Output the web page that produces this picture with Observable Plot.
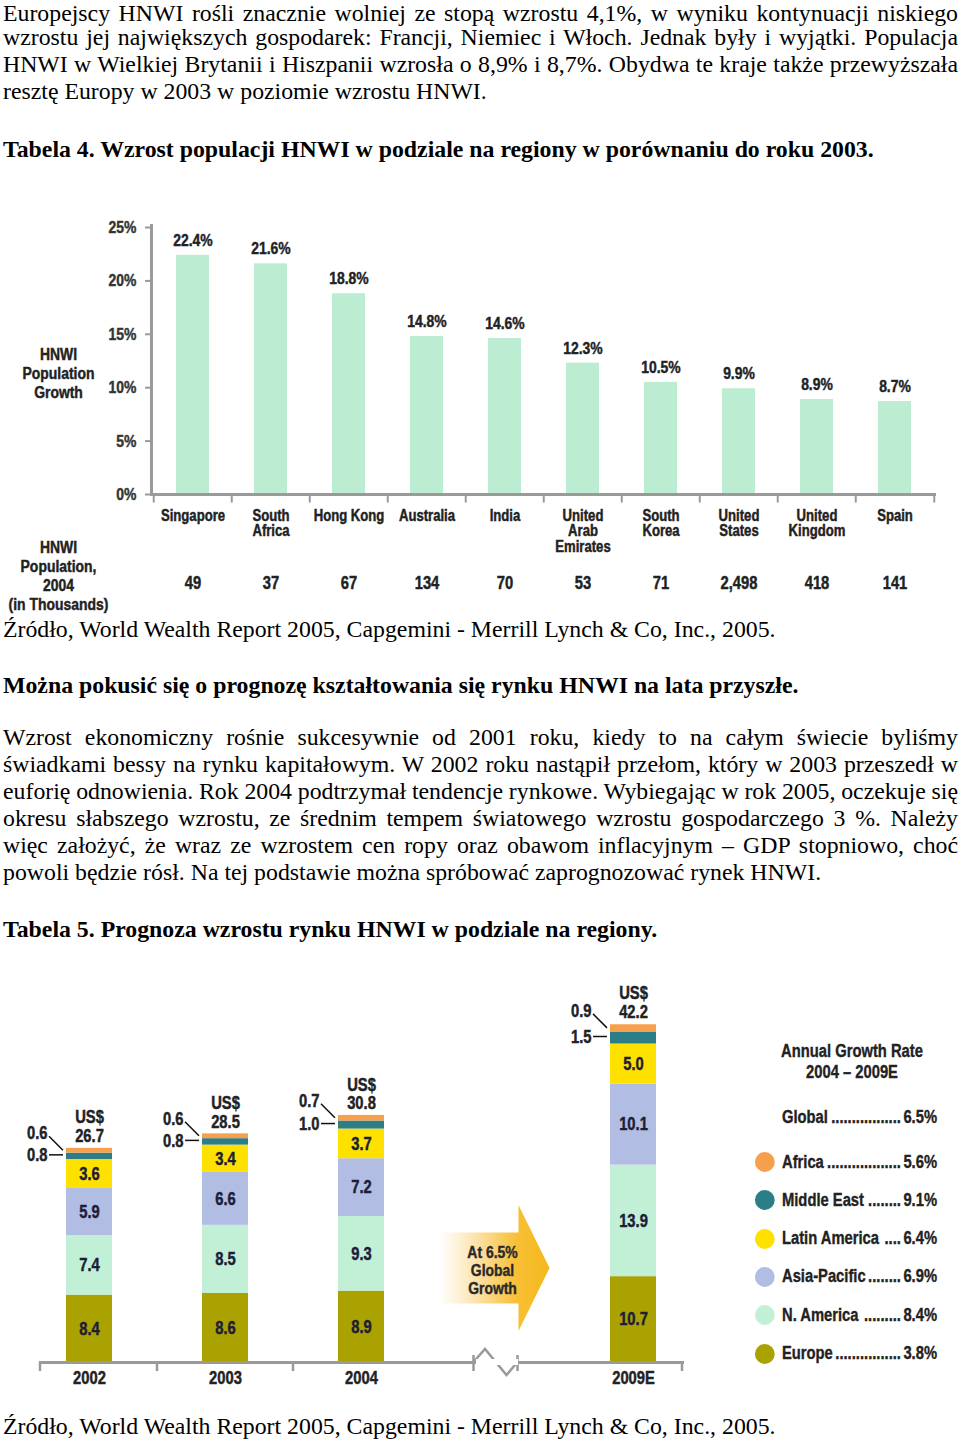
<!DOCTYPE html>
<html><head><meta charset="utf-8">
<script src="https://cdn.jsdelivr.net/npm/d3@7"></script>
<script src="https://cdn.jsdelivr.net/npm/@observablehq/plot@0.6"></script>
<style>
html,body{margin:0;padding:0;background:#fff;}
body{width:960px;height:1444px;position:relative;overflow:hidden;}
.txt{position:absolute;left:3px;width:955px;font-family:"Liberation Serif","Times New Roman",serif;font-size:23.8px;line-height:27px;color:#000;}
.first{margin-bottom:-3.5px;}
.j{text-align:justify;text-align-last:justify;word-spacing:-2px;}
.b{font-weight:bold;}
.chart{position:absolute;left:0;}
.cf{font-family:"Liberation Sans",Arial,sans-serif;font-weight:bold;color:#222;-webkit-text-stroke:0.35px #222;}
.lt{position:absolute;left:702px;width:300px;text-align:center;font-size:18px;line-height:21px;transform:scaleX(0.82);transform-origin:center;}
.lrow{position:absolute;left:755px;width:222px;height:22px;display:flex;align-items:center;font-size:18px;white-space:nowrap;transform:scaleX(0.82);transform-origin:left center;}
.dot{width:24.4px;height:20px;border-radius:50%;flex:none;margin-right:8.5px;}
.lead{flex:1;overflow:hidden;white-space:nowrap;margin:0 3px 0 2px;text-align:right;}
</style>
</head><body>
<div class="txt" style="top:0px">
<div class="j first">Europejscy HNWI rośli znacznie wolniej ze stopą wzrostu 4,1%, w wyniku kontynuacji niskiego</div>
<div class="j">wzrostu jej największych gospodarek: Francji, Niemiec i Włoch. Jednak były i wyjątki. Populacja</div>
<div class="j">HNWI w Wielkiej Brytanii i Hiszpanii wzrosła o 8,9% i 8,7%. Obydwa te kraje także przewyższała</div>
<div>resztę Europy w 2003 w poziomie wzrostu HNWI.</div>
</div>
<div class="txt b" style="top:136px">Tabela 4. Wzrost populacji HNWI w podziale na regiony w porównaniu do roku 2003.</div>
<div id="c1" class="chart" style="top:200px"></div>
<div class="txt" style="top:616px">Źródło, World Wealth Report 2005, Capgemini - Merrill Lynch &amp; Co, Inc., 2005.</div>
<div class="txt b" style="top:672px">Można pokusić się o prognozę kształtowania się rynku HNWI na lata przyszłe.</div>
<div class="txt" style="top:724px">
<div class="j">Wzrost ekonomiczny rośnie sukcesywnie od 2001 roku, kiedy to na całym świecie byliśmy</div>
<div class="j">świadkami bessy na rynku kapitałowym. W 2002 roku nastąpił przełom, który w 2003 przeszedł w</div>
<div class="j">euforię odnowienia. Rok 2004 podtrzymał tendencje rynkowe. Wybiegając w rok 2005, oczekuje się</div>
<div class="j">okresu słabszego wzrostu, ze średnim tempem światowego wzrostu gospodarczego 3 %. Należy</div>
<div class="j">więc założyć, że wraz ze wzrostem cen ropy oraz obawom inflacyjnym – GDP stopniowo, choć</div>
<div>powoli będzie rósł. Na tej podstawie można spróbować zaprognozować rynek HNWI.</div>
</div>
<div class="txt b" style="top:916px">Tabela 5. Prognoza wzrostu rynku HNWI w podziale na regiony.</div>
<div id="c2" class="chart" style="top:960px"></div>
<div id="legend" class="cf"></div>
<div class="txt" style="top:1413px">Źródło, World Wealth Report 2005, Capgemini - Merrill Lynch &amp; Co, Inc., 2005.</div>

<script>
// ---------- Data: Tabela 4 ----------
const countries = ["Singapore","South Africa","Hong Kong","Australia","India","United Arab Emirates","South Korea","United States","United Kingdom","Spain"];
const countryLabels = ["Singapore","South\nAfrica","Hong Kong","Australia","India","United\nArab\nEmirates","South\nKorea","United\nStates","United\nKingdom","Spain"];
const growthPct = [22.4,21.6,18.8,14.8,14.6,12.3,10.5,9.9,8.9,8.7];
const population2004 = [49,37,67,134,70,53,71,2498,418,141];
const growthTicks = [0,5,10,15,20,25];

// ---------- Data: Tabela 5 ----------
const years = ["2002","2003","2004","2009E"];
const regions = ["Europe","N. America","Asia-Pacific","Latin America","Middle East","Africa"];
const europe       = [8.4, 8.6, 8.9, 10.7];
const northAmerica = [7.4, 8.5, 9.3, 13.9];
const asiaPacific  = [5.9, 6.6, 7.2, 10.1];
const latinAmerica = [3.6, 3.4, 3.7, 5.0];
const middleEast   = [0.8, 0.8, 1.0, 1.5];
const africa       = [0.6, 0.6, 0.7, 0.9];
const totals       = [26.7, 28.5, 30.8, 42.2];
const regionRates  = ["3.8%","8.4%","6.9%","6.4%","9.1%","5.6%"];
const globalRate   = "6.5%";
const legendTitle  = "Annual Growth Rate\n2004 – 2009E";
const arrowText    = "At 6.5%\nGlobal\nGrowth";

// ---------- Styles ----------
const FONT = '"Liberation Sans",Arial,sans-serif';
const NARROW = 0.82;
const BAR1 = "#bcecd2";
const AXIS = "#9a9a9a";
const regionColors = ["#aaa200","#c2f0d7","#b1bde2","#ffe100","#2b7e88","#f6a04e"];
const INK = "#222";

function condense(node) {
  const svg = node.tagName.toLowerCase() === "svg" ? node : node.querySelector("svg");
  svg.querySelectorAll("text").forEach(t => {
    const tr = t.getAttribute("transform") || "";
    t.setAttribute("transform", (tr + ` scale(${NARROW},1)`).trim());
    const f = getComputedStyle(t).fill;
    t.style.stroke = f; t.style.strokeWidth = "0.45px"; t.style.paintOrder = "stroke";
  });
  return svg;
}

// ---------- Chart 1 ----------
const rows1 = countries.map((c,i)=>({country:c, label:countryLabels[i], growth:growthPct[i], pop:population2004[i]}));
const W1 = 960, H1 = 420, mL1 = 151, mR1 = 24, mT1 = 27, mB1 = 126;
const step1 = (W1 - mL1 - mR1) / countries.length;
const chart1 = Plot.plot({
  width: W1, height: H1, marginLeft: mL1, marginRight: mR1, marginTop: mT1, marginBottom: mB1,
  style: {fontFamily: FONT, color: INK, background: "transparent", overflow: "visible"},
  x: {domain: countries, paddingInner: 0.58, paddingOuter: 0.29, axis: null},
  y: {domain: [0, 25], axis: null},
  marks: [
    Plot.barY(rows1, {x: "country", y: "growth", fill: BAR1}),
    Plot.axisY({ticks: growthTicks, tickFormat: d => d + "%", tickSize: 6, tickPadding: 9, stroke: AXIS, strokeWidth: 2, fontSize: 17, fontWeight: "bold", fill: "#333", label: null}),
    Plot.axisX({tickSize: 0, tickPadding: 15, tickFormat: d => countryLabels[countries.indexOf(d)], fontSize: 16, fontWeight: "bold", lineHeight: 0.97, label: null}),
    Plot.frame({anchor: "left", stroke: AXIS, strokeWidth: 3, insetTop: -2}),
    Plot.ruleY([0], {stroke: AXIS, strokeWidth: 3}),
    Plot.ruleX(countries, {x: d => d, y1: 0, y2: -0.8, dx: -step1/2, stroke: AXIS, strokeWidth: 2}),
    Plot.ruleX(countries.slice(-1), {x: d => d, y1: 0, y2: -0.8, dx: step1/2, stroke: AXIS, strokeWidth: 2}),
    Plot.text(rows1, {x: "country", y: "growth", text: d => d.growth.toFixed(1) + "%", dy: -15, fontSize: 17, fontWeight: "bold"}),
    Plot.text(rows1, {x: "country", frameAnchor: "bottom", lineAnchor: "middle", dy: 89, text: d => d3.format(",")(d.pop), fontSize: 18, fontWeight: "bold"}),
    Plot.text(["HNWI\nPopulation\nGrowth"], {frameAnchor: "left", textAnchor: "middle", lineAnchor: "middle", dx: -93, dy: 12, fontSize: 17, fontWeight: "bold", lineHeight: 1.12}),
    Plot.text(["HNWI\nPopulation,\n2004\n(in Thousands)"], {frameAnchor: "bottom-left", textAnchor: "middle", lineAnchor: "middle", dx: -93, dy: 81, fontSize: 17, fontWeight: "bold", lineHeight: 1.12})
  ]
});
document.getElementById("c1").append(chart1);
condense(chart1);

// ---------- Chart 2 ----------
const series = [europe, northAmerica, asiaPacific, latinAmerica, middleEast, africa];
const GAP = " ";
const stackRows = years.flatMap((yr,i) => regions.map((r,j) => ({year: yr, region: r, value: series[j][i]})));
const totalRows = years.map((yr,i) => ({year: yr, total: totals[i]}));
const W2 = 960, H2 = 440, mL2 = 40, mR2 = 278, mT2 = 41, mB2 = 38;
const chart2 = Plot.plot({
  width: W2, height: H2, marginLeft: mL2, marginRight: mR2, marginTop: mT2, marginBottom: mB2,
  style: {fontFamily: FONT, color: INK, background: "transparent", overflow: "visible"},
  x: {domain: [years[0], years[1], years[2], GAP, years[3]], range: [21.5, 701.5], paddingInner: 0.66, paddingOuter: 0.33, axis: null},
  y: {domain: [0, 45], axis: null},
  color: {domain: regions, range: regionColors},
  marks: [
    Plot.barY(stackRows, {x: "year", y: "value", fill: "region", z: "region"}),
    Plot.frame({anchor: "bottom", stroke: AXIS, strokeWidth: 3}),
    Plot.axisX({ticks: years, tickSize: 0, tickPadding: 9, fontSize: 18, fontWeight: "bold", label: null}),
    Plot.text(stackRows, Plot.stackY({x: "year", y: "value", z: "region", text: d => d.value >= 2 ? d.value.toFixed(1) : "", fill: "#1d1d38", fontSize: 18, fontWeight: "bold"})),
    Plot.text(stackRows, Plot.stackY({x: "year", y: "value", z: "region", text: d => d.region === "Middle East" ? d.value.toFixed(1) : "", textAnchor: "end", dx: -42, dy: -1, fontSize: 18, fontWeight: "bold"})),
    Plot.text(stackRows, Plot.stackY({x: "year", y: "value", z: "region", text: d => d.region === "Africa" ? d.value.toFixed(1) : "", textAnchor: "end", dx: -42, dy: -17, fontSize: 18, fontWeight: "bold"})),
    Plot.text(totalRows, {x: "year", y: "total", text: d => "US$\n" + d.total.toFixed(1), lineAnchor: "bottom", dy: -6, fontSize: 18, fontWeight: "bold", lineHeight: 1.05}),
    Plot.text([GAP], {x: d => d, frameAnchor: "bottom", lineAnchor: "middle", dy: -92, dx: -5, text: () => arrowText, fontSize: 17, fontWeight: "bold", lineHeight: 1.05, fill: "#2a2a2a"})
  ]
});
document.getElementById("c2").append(chart2);
condense(chart2);

// decorations drawn from the plot's own scales
(function(){
  const sx = chart2.scale("x"), sy = chart2.scale("y");
  const bw = sx.bandwidth;
  const svg = d3.select(chart2.tagName.toLowerCase() === "svg" ? chart2 : chart2.querySelector("svg"));
  const base = sy.apply(0);
  const left = mL2, right = W2 - mR2;
  const defs = svg.insert("defs", "g");
  const grad = defs.append("linearGradient").attr("id","arrowGrad").attr("x1","0%").attr("x2","100%").attr("y1","0%").attr("y2","0%");
  grad.append("stop").attr("offset","0%").attr("stop-color","#ffffff").attr("stop-opacity",0.9);
  grad.append("stop").attr("offset","30%").attr("stop-color","#fde6b4");
  grad.append("stop").attr("offset","70%").attr("stop-color","#f7bf35");
  grad.append("stop").attr("offset","100%").attr("stop-color","#f6b81c");
  const cx = sx.apply(GAP) + bw/2, cy = base - 94;
  const pts = [[cx-57.5,cy-35.5],[cx+21.5,cy-35.5],[cx+21.5,cy-63],[cx+52.5,cy],[cx+21.5,cy+63],[cx+21.5,cy+35.5],[cx-57.5,cy+35.5]];
  svg.insert("path", "g").attr("d", "M" + pts.map(p=>p.join(",")).join("L") + "Z").attr("fill","url(#arrowGrad)");
  const g = svg.append("g").attr("stroke", AXIS).attr("stroke-width", 2.5).attr("fill","none");
  const tickXs = [left, sx.apply(years[1]) - (sx.step - bw)/2, sx.apply(years[2]) - (sx.step - bw)/2, right];
  tickXs.forEach(x => g.append("line").attr("x1",x).attr("x2",x).attr("y1",base).attr("y2",base+9));
  svg.append("rect").attr("x", cx-21).attr("y", base-3).attr("width", 42).attr("height", 6).attr("fill","#fff");
  g.append("line").attr("x1",cx-23.5).attr("x2",cx-23.5).attr("y1",base-7).attr("y2",base+9);
  g.append("line").attr("x1",cx+20.5).attr("x2",cx+20.5).attr("y1",base-7).attr("y2",base+9);
  g.append("polyline").attr("points", [[cx-23.5,base],[cx-12,base-13],[cx+9.5,base+13],[cx+20.5,base]].map(p=>p.join(",")).join(" "));
  const lg = svg.append("g").attr("stroke", "#111").attr("stroke-width", 1.5);
  years.forEach((yr,i) => {
    const x0 = sx.apply(yr);
    const below = europe[i] + northAmerica[i] + asiaPacific[i] + latinAmerica[i];
    const tealC = sy.apply(below + middleEast[i]/2);
    const orC = sy.apply(below + middleEast[i] + africa[i]/2);
    lg.append("line").attr("x1", x0-17).attr("x2", x0-3).attr("y1", tealC-1).attr("y2", tealC-1);
    lg.append("line").attr("x1", x0-17).attr("x2", x0-3).attr("y1", orC-14).attr("y2", orC);
  });
})();

// ---------- Legend (HTML) ----------
(function(){
  const L = document.getElementById("legend");
  legendTitle.split("\n").forEach((t,i) => {
    const d = document.createElement("div"); d.className = "lt"; d.textContent = t;
    d.style.top = (1041 + i*21) + "px"; L.append(d);
  });
  const rowsL = [{name:"Global", rate: globalRate, color: null}]
    .concat(regions.map((r,i)=>({name:r, rate: regionRates[i], color: regionColors[i]})).reverse());
  rowsL.forEach((r,i) => {
    const row = document.createElement("div"); row.className = "lrow";
    const c = i === 0 ? 1117 : 1162 + (i-1)*38.3;
    row.style.top = (c - 11) + "px";
    const dot = document.createElement("span"); dot.className = "dot";
    if (r.color) dot.style.background = r.color;
    const nm = document.createElement("span"); nm.textContent = r.name;
    const ld = document.createElement("span"); ld.className = "lead"; ld.textContent = ".";
    const vl = document.createElement("span"); vl.textContent = r.rate;
    row.append(dot, nm, ld, vl); L.append(row);
    const probe = document.createElement("span"); probe.textContent = "..........";
    probe.style.position = "absolute"; probe.style.visibility = "hidden"; row.append(probe);
    const dw = probe.getBoundingClientRect().width / 10 / NARROW;
    probe.remove();
    const avail = ld.getBoundingClientRect().width / NARROW;
    ld.textContent = ".".repeat(Math.max(1, Math.floor(avail / dw)));
  });
})();
</script>
</body></html>
